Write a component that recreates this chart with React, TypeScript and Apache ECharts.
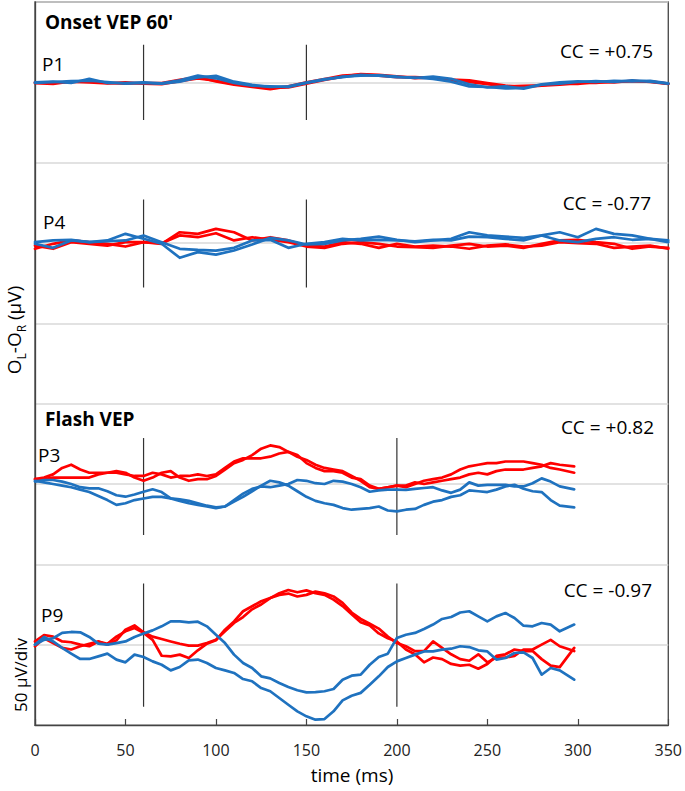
import React, { useEffect, useRef } from "react";
import * as echarts from "echarts";

// time axes (ms)
const onsetTimes = Array.from({ length: 36 }, (_, i) => i * 10);
const flashTimes = [0,5,10,15,20,25,30,35,40,45,50,55,60,65,70,75,80,85,90,95,100,105,110,115,120,125,130,135,140,145,150,155,160,165,170,175,180,185,190,195,200,205,210,215,220,225,230,235,240,245,250,255,260,265,270,275,280,285,290,298];
const xTicks = [0, 50, 100, 150, 200, 250, 300, 350];

// Onset VEP 60' — P1 (µV)
const p1RedA = [0,-0.4,0.2,0.6,-0.4,-0.8,-0.4,-0.4,1.6,3.3, 0.6,-1.5,-2.9,-4.2,-2.5,0,2.1,4.2,4.8,4.2, 3.3,3.3,2.7,1.7,1.2,-0.4,-2.1,-2.9,-2.1,-1.5, -0.4,-0.4,0.6,0.6,0.6,-0.8];
const p1RedB = [-0.5,-1,0.5,0,-0.6,0,-0.8,-1.2,0.8,2.5, 1.0,-1.0,-2.2,-3.5,-3.2,-0.8,1.5,3.6,5.2,4.6, 3.8,2.6,3.0,1.0,0.2,-1.2,-2.5,-2.2,-1.8,-0.8, -1.0,0.2,0,1.0,0.2,-1.0];
const p1BlueA = [0,0.4,-0.4,2.2,-0.4,-0.4,0,-0.6,1.2,4.2, 2.5,-0.4,-2.1,-2.5,-2.9,-0.4,1.6,3.6,4.2,4.4, 3.6,2.7,3.6,2.2,-1.2,-3.1,-2.5,-4.0,-1.5,-0.8, 0.2,0.8,0.2,1.2,0.4,-0.8];
const p1BlueB = [-0.4,0.2,0.8,1.0,0.2,-0.8,-0.4,-0.8,0.4,3.0, 4.0,0.4,-1.6,-2.9,-2.5,-0.2,2.0,3.2,4.6,4.2, 3.2,3.0,2.2,0.4,-2.5,-2.9,-3.8,-3.5,-1.2,0, 0.6,0.2,1.0,0.6,1.0,-0.6];

// Onset VEP 60' — P4 (µV)
const p4RedA = [-3.6,-0.5,1.6,0.5,-0.5,-2.2,0.5,-0.5,6.7,5.7, 8.8,6.7,1.6,3.6,1.6,-1.6,-2.2,0.5,-0.5,-3.0, -0.5,-2.2,-1.6,-2.2,-3.6,-1.6,-0.9,-2.2,-1.6,0.5, -0.1,-0.5,-3.0,-2.2,-1.6,-3.6];
const p4RedB = [-1.6,-3.6,0.5,-0.5,-1.6,0.5,0.5,-0.1,4.7,3.6, 6.1,1.6,3.6,2.0,0.5,-2.2,-3.0,-0.5,0.5,-0.5, -2.2,-2.6,-3.0,-1.6,-0.5,-2.2,-1.6,-3.0,-0.5,1.6, 2.0,0.5,-0.5,-3.6,-2.2,-3.0];
const p4BlueA = [-0.5,-3.0,1.6,0.5,1.6,5.7,2.6,-0.5,-9.2,-5.7, -7.2,-4.7,-0.9,3.2,1.6,-0.9,-0.5,1.6,2.6,4.0, 2.0,0.5,1.6,2.6,6.7,4.7,4.0,3.2,4.7,6.7, 3.6,8.8,5.7,4.7,2.6,0.5];
const p4BlueB = [0.5,1.6,2.0,0.5,1.1,1.6,4.7,0.5,-3.6,-4.3, -4.7,-3.0,1.6,2.0,-3.0,-0.5,0.5,2.6,1.6,2.0, 1.6,1.1,2.0,1.6,4.0,3.6,2.6,1.6,4.7,1.6, 0.5,2.6,3.6,2.0,2.6,1.6];

// Flash VEP — P3 (µV)
const p3RedA = [3,4,6,10,12,9,7,7,7,8, 7,4,2,4,7,8,4,2,3,3, 5,9,13,15,18,22,24,23,20,17, 15,12,10,9,8,5,2,-2,-3,-2, -1,-2,0,2,3,4,6,9,11,12, 13,13,14,14,14,13,12,10,9,7];
const p3RedB = [3,3,4,4,4,4,4,6,7,7, 6,5,5,7,6,4,5,5,6,5, 6,10,14,16,16,16,17,19,20,18, 13,10,8,8,7,4,3,-1,-3,-2, -1,-1,1,0,1,2,3,4,6,7, 6,8,9,9,9,10,11,13,12,11];
const p3BlueA = [1.5,2.5,2.5,1.5,0,-2,-2.7,-2.7,-4.5,-7, -7.9,-6.5,-4.8,-3.3,-5,-9,-9.5,-10.5,-12,-13.5, -14.5,-14,-11,-8,-4.5,-1,2,1,-1,-4.5, -8,-10.5,-12,-13,-15,-16,-15.5,-15,-14,-16.5, -17,-16,-15.5,-13,-11,-10,-8,-7,-4,-4.5, -5,-3.5,-1.5,-0.5,-3,-4.5,-5,-10,-13.5,-14.5];
const p3BlueB = [2,1,0,-1,-2,-3.5,-5,-7.5,-10,-13, -12,-10,-9,-8,-8,-9,-10.5,-12,-13,-14, -15,-14,-10,-6,-3,-1.5,-2,-1,0,2.5, 2,0.5,0,2,1.5,0,-2,-4.8,-4,-3.5, -3.5,-3.7,-3,-2.5,-2,-4,-5.5,-3.5,1,-1, -0.5,-0.5,-0.5,-1.5,-1.5,0.5,3.5,1.5,-1.5,-3.3];

// Flash VEP — P9 (µV)
const p9RedA = [2,6,5,2,1.5,0,-1,2,0,2.7, 9.3,12,7.7,5,3.5,2,0.6,-0.6,-0.6,1, 3,8.3,13.5,17.2,22,25,29,32,34,32.6, 33.8,32,31,28,24,19,14,12,7,4, 2,-3,-6,-11,-8,-9,-12,-13,-12.5,-15, -12,-7,-6,-3,-4,-4,-9,-13,-14,-2];
const p9RedB = [-1,4,1,-2,-3,-1,0.6,2,0.6,5, 8.3,10.4,7.3,3,-6.9,-7.3,-6.2,-8.3,-3.5,0.6, 2.7,9.3,14.5,20.8,23.9,27,29,31,31.8,30, 31,33,32,30,26,20,16,13,10,5, 1,-1,-4,-4,2,-2,-6,-9,-10,-6, -11,-8,-8,-7,-3,-3,0,3,-1,-4];
const p9BlueU = [0,3,4,7.3,7.9,7.7,4.8,0.6,0,1, 2,4.8,6.9,8.9,11.4,14.5,14.5,13.9,14.3,11.4, 6.2,1,-6.2,-11.4,-14.5,-19.7,-21,-23.9,-26.4,-28.4, -29.7,-29.5,-29,-27.6,-21.8,-19.3,-18.7,-12.5,-7.7,-5.6, 4.2,6.2,7.3,9.8,12.5,16,17.2,20,20.8,17.6, 14.5,17.6,19.7,16.6,11.8,11.4,13.5,12.5,8.3,12.5];
const p9BlueL = [0,4.8,2,-2,-5.6,-8.9,-8.9,-7.3,-5.6,-9.3, -11,-6.2,-7.7,-10.4,-12.5,-16,-13.9,-9.8,-9.3,-11.4, -14.5,-16,-17.6,-21.4,-22.8,-27,-29,-33.2,-37.4,-41.5, -44.6,-46.7,-46.3,-41.5,-34.7,-31.8,-30,-25,-19.7,-13.9, -10.4,-8.3,-6.2,-4.2,-4.2,-3.1,-2.5,-1,-1.5,-3.5, -4.2,-9.3,-8.3,-5.2,-4.8,-8.3,-18.7,-14.5,-16,-21.8];

// panel baselines (in divisions) and scale-bar markers
const panelOffsets = { P1: 8, P4: 6, P3: 3, P9: 1 };
const markerTimesOnset = [60, 150];
const markerTimesFlash = [60, 200];
const markerRange = { P1: [-23.4, 23.4], P4: [-27.7, 27.1], P3: [-31.8, 28.6], P9: [-38.6, 38] };
const uvPerDiv = 50;

const RED = "#ff0000";
const BLUE = "#1f72bf";
const FONT = "Open Sans";

function trace(times: number[], vals: number[], off: number, color: string) {
  return {
    type: "line",
    data: times.map((t, i) => [t, off + vals[i] / uvPerDiv]),
    symbol: "none",
    smooth: false,
    lineStyle: { color, width: 2.7, join: "round", cap: "round" },
    z: 3,
  };
}

function marker(t: number, off: number, range: number[]) {
  return {
    type: "line",
    data: [[t, off + range[0] / uvPerDiv], [t, off + range[1] / uvPerDiv]],
    symbol: "none",
    lineStyle: { color: "#333", width: 1.2 },
    z: 2,
  };
}

function txt(text: string, x: number, y: number, opts: any = {}) {
  return {
    type: "text",
    x,
    y,
    style: {
      text,
      fontFamily: FONT,
      fontSize: opts.size || 19,
      fontWeight: opts.bold ? "bold" : "normal",
      fill: "#000",
      align: opts.align || "left",
      verticalAlign: "middle",
    },
  };
}

export default function App() {
  const ref = useRef<HTMLDivElement>(null);
  useEffect(() => {
    if (!ref.current) return;
    const chart = echarts.init(ref.current, null, { renderer: "svg" });
    const series: any[] = [
      trace(onsetTimes, p1RedA, panelOffsets.P1, RED),
      trace(onsetTimes, p1RedB, panelOffsets.P1, RED),
      trace(onsetTimes, p1BlueA, panelOffsets.P1, BLUE),
      trace(onsetTimes, p1BlueB, panelOffsets.P1, BLUE),
      trace(onsetTimes, p4RedA, panelOffsets.P4, RED),
      trace(onsetTimes, p4RedB, panelOffsets.P4, RED),
      trace(onsetTimes, p4BlueA, panelOffsets.P4, BLUE),
      trace(onsetTimes, p4BlueB, panelOffsets.P4, BLUE),
      trace(flashTimes, p3RedA, panelOffsets.P3, RED),
      trace(flashTimes, p3RedB, panelOffsets.P3, RED),
      trace(flashTimes, p3BlueA, panelOffsets.P3, BLUE),
      trace(flashTimes, p3BlueB, panelOffsets.P3, BLUE),
      trace(flashTimes, p9RedA, panelOffsets.P9, RED),
      trace(flashTimes, p9RedB, panelOffsets.P9, RED),
      trace(flashTimes, p9BlueU, panelOffsets.P9, BLUE),
      trace(flashTimes, p9BlueL, panelOffsets.P9, BLUE),
      ...markerTimesOnset.map((t) => marker(t, panelOffsets.P1, markerRange.P1)),
      ...markerTimesOnset.map((t) => marker(t, panelOffsets.P4, markerRange.P4)),
      ...markerTimesFlash.map((t) => marker(t, panelOffsets.P3, markerRange.P3)),
      ...markerTimesFlash.map((t) => marker(t, panelOffsets.P9, markerRange.P9)),
    ];
    chart.setOption({
      animation: false,
      backgroundColor: "#fff",
      grid: { left: 35, right: 15, top: 2, bottom: 66, show: true, borderColor: "#444", borderWidth: 1.3, backgroundColor: "transparent" },
      xAxis: {
        type: "value",
        min: xTicks[0],
        max: xTicks[xTicks.length - 1],
        interval: 50,
        axisLine: { show: true, lineStyle: { color: "#444", width: 1.3 } },
        axisTick: { show: true, inside: true, length: 6, lineStyle: { color: "#444", width: 1.2 } },
        axisLabel: { fontFamily: FONT, fontSize: 16, color: "#222", margin: 17 },
        splitLine: { show: false },
      },
      yAxis: {
        type: "value",
        min: 0,
        max: 9,
        interval: 1,
        axisLine: { show: true, lineStyle: { color: "#444", width: 1.3 } },
        axisTick: { show: false },
        axisLabel: { show: false },
        splitLine: { show: true, lineStyle: { color: "#d9d9d9", width: 1.5 } },
      },
      series,
      graphic: [
        txt("Onset VEP 60'", 45, 22, { bold: true }),
        txt("P1", 42, 64),
        txt("CC = +0.75", 653, 51, { align: "right" }),
        txt("P4", 43, 222),
        txt("CC = -0.77", 651, 203, { align: "right" }),
        txt("Flash VEP", 45, 419, { bold: true }),
        txt("P3", 38, 455),
        txt("CC = +0.82", 654, 427, { align: "right" }),
        txt("P9", 41, 615),
        txt("CC = -0.97", 652, 590, { align: "right" }),
        txt("time (ms)", 352, 775, { align: "center", size: 19 }),
        {
          type: "text",
          x: 14,
          y: 330,
          rotation: Math.PI / 2,
          style: {
            text: "{n|O}{s|L}{n|-O}{s|R}{n| (µV)}",
            align: "center",
            verticalAlign: "middle",
            fill: "#000",
            rich: {
              n: { fontFamily: FONT, fontSize: 19, lineHeight: 26, fill: "#000" },
              s: { fontFamily: FONT, fontSize: 12, lineHeight: 26, verticalAlign: "bottom", fill: "#000" },
            },
          },
        },
        {
          type: "text",
          x: 20,
          y: 675,
          rotation: Math.PI / 2,
          style: { text: "50 µV/div", fontFamily: FONT, fontSize: 17, fill: "#000", align: "center", verticalAlign: "middle" },
        },
      ],
    });
    return () => chart.dispose();
  }, []);
  return <div ref={ref} style={{ position: "fixed", left: 0, top: 0, width: 685, height: 791, background: "#fff" }} />;
}
